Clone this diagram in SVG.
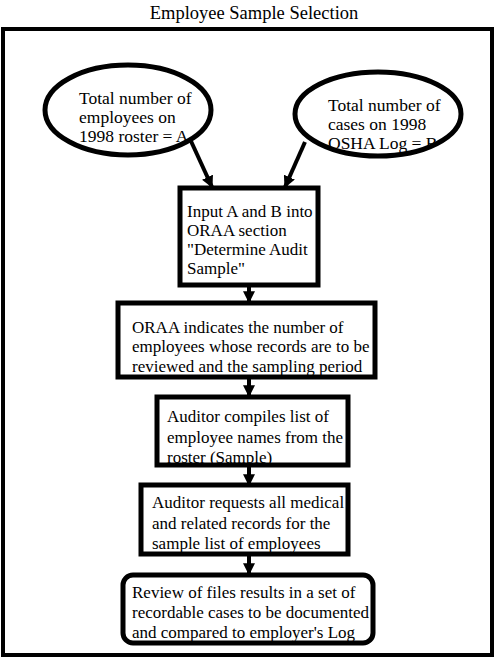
<svg xmlns="http://www.w3.org/2000/svg" width="496" height="659" viewBox="0 0 496 659">
<style>
text{font-family:"Liberation Serif","Times New Roman",serif;font-size:17px;fill:#000}
.title{font-size:18.5px}
.el{font-size:17.5px}
.sh{fill:#fff;stroke:#000;stroke-width:5}
.cn{stroke:#000;stroke-width:4;fill:none}
</style>
<defs>
<marker id="ah" viewBox="0 0 10 10" refX="9" refY="5" markerWidth="3" markerHeight="3" orient="auto" markerUnits="strokeWidth">
<path d="M0,0L10,5L0,10z" fill="#000"/>
</marker>
<clipPath id="c0"><ellipse cx="128" cy="110" rx="81" ry="43"/></clipPath>
<clipPath id="c1"><ellipse cx="378" cy="114" rx="81" ry="40"/></clipPath>
<clipPath id="c2"><rect x="182" y="190" width="134" height="93"/></clipPath>
<clipPath id="c3"><rect x="120" y="305" width="252" height="70"/></clipPath>
<clipPath id="c4"><rect x="159" y="399" width="187" height="64"/></clipPath>
<clipPath id="c5"><rect x="143" y="487" width="203" height="65"/></clipPath>
<clipPath id="c6"><rect x="125" y="577" width="246" height="64" rx="8"/></clipPath>
</defs>
<text class="title" x="254" y="19" text-anchor="middle">Employee Sample Selection</text>
<rect x="3" y="29" width="489" height="626" fill="none" stroke="#000" stroke-width="4"/>
<g id="connectors">
<line class="cn" x1="190" y1="139" x2="212" y2="187" marker-end="url(#ah)"/>
<line class="cn" x1="305" y1="142" x2="285" y2="187" marker-end="url(#ah)"/>
<line class="cn" x1="249" y1="285" x2="249" y2="302" marker-end="url(#ah)"/>
<line class="cn" x1="249" y1="377" x2="249" y2="396" marker-end="url(#ah)"/>
<line class="cn" x1="249" y1="465" x2="249" y2="485" marker-end="url(#ah)"/>
<line class="cn" x1="249" y1="554" x2="249" y2="574" marker-end="url(#ah)"/>
</g>
<g id="n0">
<ellipse class="sh" cx="128" cy="110" rx="83" ry="45"/>
<g clip-path="url(#c0)" class="el">
<text class="el" x="79" y="104">Total number of</text>
<text class="el" x="79" y="123">employees on</text>
<text class="el" x="79" y="142">1998 roster = A</text>
</g>
</g>
<g id="n1">
<ellipse class="sh" cx="378" cy="114" rx="83" ry="42"/>
<g clip-path="url(#c1)">
<text class="el" x="328" y="111">Total number of</text>
<text class="el" x="328" y="130">cases on 1998</text>
<text class="el" x="328" y="149">OSHA Log = B</text>
</g>
</g>
<g id="n2">
<rect class="sh" x="180" y="188" width="138" height="97"/>
<g clip-path="url(#c2)">
<text x="187" y="217">Input A and B into</text>
<text x="187" y="236">ORAA section</text>
<text x="187" y="255">"Determine Audit</text>
<text x="187" y="274">Sample"</text>
</g>
</g>
<g id="n3">
<rect class="sh" x="118" y="303" width="257" height="74"/>
<g clip-path="url(#c3)">
<text x="132" y="333">ORAA indicates the number of</text>
<text x="132" y="352">employees whose records are to be</text>
<text x="132" y="372">reviewed and the sampling period</text>
</g>
</g>
<g id="n4">
<rect class="sh" x="157" y="397" width="191" height="68"/>
<g clip-path="url(#c4)">
<text x="167" y="422">Auditor compiles list of</text>
<text x="167" y="443">employee names from the</text>
<text x="167" y="463">roster (Sample)</text>
</g>
</g>
<g id="n5">
<rect class="sh" x="141" y="485" width="207" height="69"/>
<g clip-path="url(#c5)">
<text x="152" y="508">Auditor requests all medical</text>
<text x="152" y="529">and related records for the</text>
<text x="152" y="549">sample list of employees</text>
</g>
</g>
<g id="n6">
<rect class="sh" x="123" y="575" width="250" height="68" rx="10"/>
<g clip-path="url(#c6)">
<text x="132" y="598">Review of files results in a set of</text>
<text x="132" y="618">recordable cases to be documented</text>
<text x="132" y="638">and compared to employer's Log</text>
</g>
</g>
</svg>
